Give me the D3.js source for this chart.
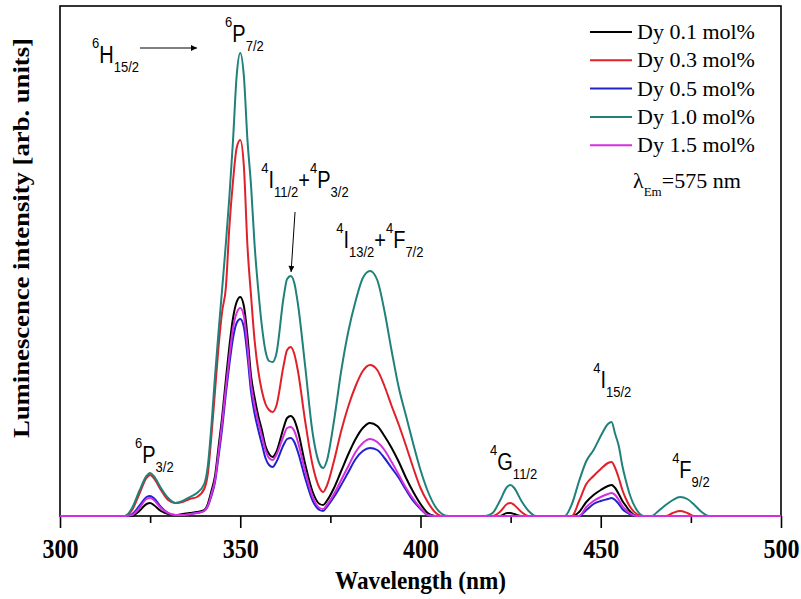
<!DOCTYPE html>
<html>
<head>
<meta charset="utf-8">
<script src="https://cdn.jsdelivr.net/npm/d3@7/dist/d3.min.js"></script>
<style>
  html, body { margin: 0; padding: 0; background: #fff; }
  svg { display: block; }
</style>
</head>
<body>
<svg id="chart" width="801" height="599"></svg>
<script>
// ---------------- DATA ----------------
const wavelengths = [
  300, 316, 318, 320, 322, 324, 325, 326, 328, 330,
  332, 334, 336, 338, 340, 341, 342, 343, 344, 345,
  346, 347, 348, 349, 350, 351, 352, 353, 354, 355,
  356, 357, 358, 359, 360, 362, 363, 364, 365, 366,
  368, 370, 372, 373, 374, 376, 378, 380, 382, 384,
  386, 388, 390, 392, 394, 396, 398, 400, 402, 404,
  406, 408, 418, 420, 422, 424, 425, 426, 428, 430,
  432, 440, 442, 444, 446, 448, 450, 452, 453, 454,
  455, 456, 457, 458, 460, 462, 464, 466, 468, 470,
  472, 474, 476, 478, 480, 482, 500
];
const dy01 = [
  0, 0, 0, 0, 5, 12, 13, 11, 5, 2,
  1, 2, 3, 4, 6, 12, 25, 40, 70, 100,
  136, 170, 198, 214, 219, 210, 180, 140, 118, 100,
  86, 70, 62, 59, 64, 88, 98, 100, 96, 85,
  52, 25, 12, 11, 15, 28, 45, 62, 77, 88,
  93, 90, 80, 68, 54, 38, 24, 12, 3, 0,
  0, 0, 0, 0, 0, 3, 3, 2, 0, 0,
  0, 0, 0, 4, 14, 21, 26, 30, 31, 28,
  22, 15, 10, 5, 0, 0, 0, 0, 0, 0,
  0, 0, 0, 0, 0, 0, 0
];
const dy03 = [
  0, 0, 0, 6, 22, 38, 41, 38, 26, 16,
  13, 14, 17, 19, 27, 42, 80, 125, 170, 205,
  228, 290, 335, 368, 376, 350, 270, 220, 175, 145,
  125, 112, 106, 104, 110, 150, 166, 169, 162, 145,
  95, 52, 28, 24, 30, 55, 85, 110, 130, 145,
  151, 146, 130, 110, 91, 70, 48, 28, 14, 4,
  0, 0, 0, 0, 4, 12, 13, 11, 4, 0,
  0, 0, 0, 15, 32, 40, 47, 53, 54, 48,
  38, 26, 17, 10, 2, 0, 0, 0, 0, 3,
  5, 3, 0, 0, 0, 0, 0
];
const dy05 = [
  0, 0, 0, 2, 10, 19, 20, 18, 9, 3,
  1, 1, 2, 3, 5, 10, 20, 34, 60, 88,
  122, 152, 178, 193, 197, 189, 160, 124, 102, 86,
  72, 58, 51, 49, 54, 71, 77, 78, 74, 64,
  38, 16, 6, 5, 9, 19, 31, 44, 57, 65,
  68, 66, 58, 48, 38, 26, 15, 7, 1, 0,
  0, 0, 0, 0, 0, 0, 0, 0, 0, 0,
  0, 0, 0, 0, 6, 12, 15, 17, 18, 16,
  12, 7, 4, 2, 0, 0, 0, 0, 0, 0,
  0, 0, 0, 0, 0, 0, 0
];
const dy10 = [
  0, 0, 0, 8, 25, 40, 43, 40, 28, 18,
  13, 15, 19, 23, 32, 50, 90, 140, 185, 228,
  272, 320, 376, 440, 463, 440, 376, 330, 270, 226,
  190, 165, 155, 154, 162, 218, 237, 240, 233, 212,
  150, 85, 52, 48, 55, 95, 145, 185, 215, 238,
  245, 236, 205, 165, 128, 100, 72, 46, 25, 10,
  2, 0, 0, 3, 15, 29, 31, 28, 15, 5,
  0, 0, 12, 35, 55, 66, 80, 92, 94, 82,
  70, 50, 35, 22, 6, 0, 0, 5, 11, 16,
  19, 17, 11, 4, 0, 0, 0
];
const dy15 = [
  0, 0, 0, 1, 8, 17, 18, 16, 8, 3,
  1, 1, 2, 3, 5, 10, 22, 36, 64, 94,
  128, 160, 188, 203, 208, 200, 170, 132, 110, 94,
  80, 66, 58, 56, 61, 80, 88, 89, 85, 74,
  45, 20, 8, 7, 11, 22, 36, 50, 64, 73,
  77, 74, 66, 54, 41, 28, 17, 8, 1, 0,
  0, 0, 0, 0, 0, 0, 0, 0, 0, 0,
  0, 0, 0, 0, 9, 15, 19, 22, 23, 21,
  16, 10, 6, 3, 0, 0, 0, 0, 0, 0,
  0, 0, 0, 0, 0, 0, 0
];
const seriesLabels = ["Dy 0.1 mol%", "Dy 0.3 mol%", "Dy 0.5 mol%", "Dy 1.0 mol%", "Dy 1.5 mol%"];
const seriesValues = [dy01, dy03, dy05, dy10, dy15];
const seriesColors = ["#000000", "#e0202a", "#2222cc", "#20807a", "#d42ee0"];
const majorTicks = [300, 350, 400, 450, 500];
const minorTicks = [325, 375, 425, 475];
const xTitle = "Wavelength (nm)";
const yTitle = "Luminescence intensity [arb. units]";

// annotation anchors in data units (nm, intensity) of left edge / baseline
const annotations = [
  { nm: 308.9, v: 453, parts: [["sup","6"],["main","H"],["sub","15/2"]] },
  { nm: 345.8, v: 474, parts: [["sup","6"],["main","P"],["sub","7/2"]] },
  { nm: 355.8, v: 328, parts: [["sup","4"],["main","I"],["sub","11/2"],["main","+"],["sup","4"],["main","P"],["sub","3/2"]] },
  { nm: 376.6, v: 268, parts: [["sup","4"],["main","I"],["sub","13/2"],["main","+"],["sup","4"],["main","F"],["sub","7/2"]] },
  { nm: 320.8, v: 53,  parts: [["sup","6"],["main","P"],["sub","3/2"]] },
  { nm: 419.3, v: 46,  parts: [["sup","4"],["main","G"],["sub","11/2"]] },
  { nm: 447.9, v: 128, parts: [["sup","4"],["main","I"],["sub","15/2"]] },
  { nm: 469.8, v: 38,  parts: [["sup","4"],["main","F"],["sub","9/2"]] }
];
const arrows = [
  { from: [322.2, 468], to: [338.0, 468] },
  { from: [365.2, 304], to: [364.1, 244] }
];

// ---------------- CHART ----------------
const W = 801, H = 599;
const margin = { left: 60, right: 20, top: 6, bottom: 83 };
const svg = d3.select("#chart");
const x = d3.scaleLinear().domain([300, 500]).range([margin.left, W - margin.right]);
const y = d3.scaleLinear().domain([0, 510]).range([H - margin.bottom, margin.top]);

const defs = svg.append("defs");
defs.append("marker")
  .attr("id", "ah").attr("viewBox", "0 0 10 10")
  .attr("refX", 10).attr("refY", 5)
  .attr("markerWidth", 11).attr("markerHeight", 6)
  .attr("markerUnits", "userSpaceOnUse")
  .attr("orient", "auto")
  .append("path").attr("d", "M0,0 L10,5 L0,10 Z").attr("fill", "#000");

// frame
svg.append("rect")
  .attr("x", x(300)).attr("y", y(510))
  .attr("width", x(500) - x(300)).attr("height", y(0) - y(510))
  .attr("fill", "none").attr("stroke", "#000").attr("stroke-width", 1.6);

// bottom axis major
const gx = svg.append("g").attr("transform", `translate(0,${y(0)})`)
  .call(d3.axisBottom(x).tickValues(majorTicks).tickSize(12).tickFormat(d3.format("d")));
gx.select(".domain").remove();
gx.selectAll(".tick line").attr("stroke", "#000").attr("stroke-width", 1.6);
gx.selectAll(".tick text")
  .attr("y", 36.5).attr("dy", 0)
  .attr("transform", "scale(1,1.15)")
  .attr("font-family", "'Liberation Serif', 'Times New Roman', serif")
  .attr("font-weight", "bold").attr("font-size", 24)
  .attr("fill", "#000");
// minor ticks
const gxm = svg.append("g").attr("transform", `translate(0,${y(0)})`)
  .call(d3.axisBottom(x).tickValues(minorTicks).tickSize(7).tickFormat(""));
gxm.select(".domain").remove();
gxm.selectAll(".tick line").attr("stroke", "#000").attr("stroke-width", 1.6);

// axis titles
svg.append("text")
  .attr("x", (x(300) + x(500)) / 2).attr("y", 589)
  .attr("text-anchor", "middle")
  .attr("font-family", "'Liberation Serif', 'Times New Roman', serif")
  .attr("font-weight", "bold").attr("font-size", 26)
  .attr("textLength", 171).attr("lengthAdjust", "spacingAndGlyphs")
  .text(xTitle);
svg.append("text")
  .attr("transform", `translate(29,${238}) rotate(-90)`)
  .attr("text-anchor", "middle")
  .attr("font-family", "'Liberation Serif', 'Times New Roman', serif")
  .attr("font-weight", "bold").attr("font-size", 23)
  .attr("textLength", 400).attr("lengthAdjust", "spacingAndGlyphs")
  .text(yTitle);

// lines
const line = d3.line()
  .x(d => x(d[0])).y(d => y(d[1]))
  .curve(d3.curveMonotoneX);
seriesValues.forEach((vals, i) => {
  const pts = wavelengths.map((w, k) => [w, vals[k]]);
  svg.append("path")
    .datum(pts)
    .attr("d", line)
    .attr("fill", "none")
    .attr("stroke", seriesColors[i])
    .attr("stroke-width", 2)
    .attr("stroke-linejoin", "round");
});

// annotations (vertically stretched like the source figure)
const offs = { sup: -13, main: 0, sub: 8 };
const sizes = { sup: 13, main: 20, sub: 13 };
annotations.forEach(a => {
  const t = svg.append("text")
    .attr("transform", `translate(${x(a.nm)},${y(a.v)}) scale(1,1.15)`)
    .attr("font-family", "'Liberation Sans', Arial, sans-serif")
    .attr("fill", "#000");
  let cur = 0;
  a.parts.forEach(([type, txt]) => {
    t.append("tspan")
      .attr("dy", offs[type] - cur)
      .attr("font-size", sizes[type])
      .text(txt);
    cur = offs[type];
  });
});
arrows.forEach(a => {
  svg.append("line")
    .attr("x1", x(a.from[0])).attr("y1", y(a.from[1]))
    .attr("x2", x(a.to[0])).attr("y2", y(a.to[1]))
    .attr("stroke", "#000").attr("stroke-width", 1)
    .attr("marker-end", "url(#ah)");
});

// legend
const legX = 590, legY0 = 32, legDy = 28.3;
const leg = svg.append("g");
seriesLabels.forEach((lab, i) => {
  const yy = legY0 + i * legDy;
  leg.append("line")
    .attr("x1", legX).attr("x2", legX + 42)
    .attr("y1", yy).attr("y2", yy)
    .attr("stroke", seriesColors[i]).attr("stroke-width", 2);
  leg.append("text")
    .attr("x", legX + 47).attr("y", yy + 7)
    .attr("font-family", "'Liberation Serif', 'Times New Roman', serif")
    .attr("font-size", 22)
    .text(lab);
});
const lam = leg.append("text")
  .attr("x", 633).attr("y", 188)
  .attr("font-family", "'Liberation Serif', 'Times New Roman', serif")
  .attr("font-size", 22);
lam.append("tspan").text("λ");
lam.append("tspan").attr("dy", 8).attr("font-size", 13).text("Em");
lam.append("tspan").attr("dy", -8).text("=575 nm");
</script>
</body>
</html>
